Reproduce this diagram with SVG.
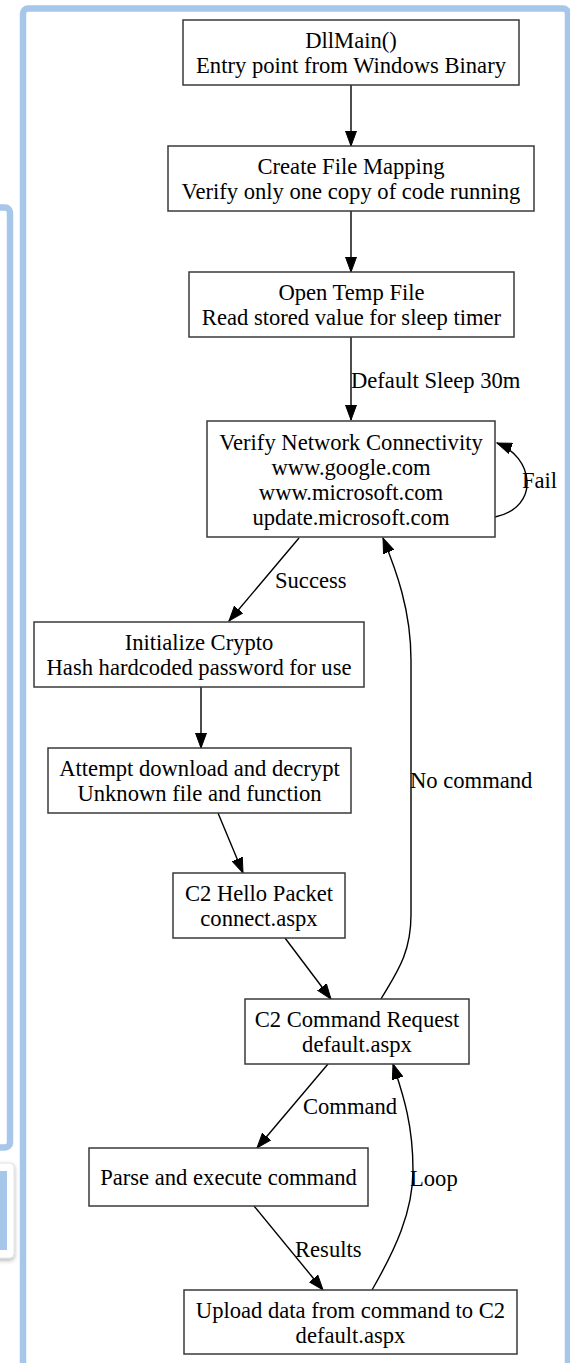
<svg xmlns="http://www.w3.org/2000/svg" width="570" height="1363" viewBox="0 0 570 1363">
  <style>
    .frame { fill: none; stroke: #a6c7ea; stroke-width: 6.5; }
    .node rect { fill: #ffffff; stroke: #3a3a3a; stroke-width: 1.5; }
    .node text, .lbl { font-family: "Liberation Serif", "Times New Roman", serif; font-size: 22.6px; fill: #000000; }
    .node text { text-anchor: middle; }
    .edge { fill: none; stroke: #000000; stroke-width: 1.4; }
  </style>
  <defs>
    <marker id="arrow" markerUnits="userSpaceOnUse" markerWidth="16" markerHeight="12" viewBox="0 0 16 12" refX="15" refY="6" orient="auto">
      <path d="M0,0.5 L15,6 L0,11.5 Z" fill="#000000" stroke="#000000" stroke-width="1"/>
    </marker>
    <filter id="shadow" x="-50%" y="-20%" width="200%" height="140%">
      <feDropShadow dx="0" dy="2" stdDeviation="2" flood-color="#000000" flood-opacity="0.3"/>
    </filter>
  </defs>

  <rect width="570" height="1363" fill="#ffffff"/>

  <!-- page panels -->
  <rect class="frame" x="-20" y="207.5" width="30" height="940" rx="5"/>
  <rect x="-12" y="1163" width="26" height="95" rx="4" fill="#ffffff" stroke="#e2e2e2" stroke-width="1" filter="url(#shadow)"/>
  <rect x="-5" y="1171" width="12" height="79" fill="#a6c7ea"/>
  <rect class="frame" x="23" y="8.5" width="545" height="1420" rx="5"/>

  <!-- connectors -->
  <g id="edges">
    <path class="edge" d="M351,85 V146" marker-end="url(#arrow)"/>
    <path class="edge" d="M351,211 V272" marker-end="url(#arrow)"/>
    <path class="edge" d="M351,337 V420" marker-end="url(#arrow)"/>
    <text class="lbl" x="351" y="388">Default Sleep 30m</text>
    <path class="edge" d="M495,517 C518,512 528,497 527,481 C526,465 515,450 497,443" marker-end="url(#arrow)"/>
    <text class="lbl" x="522" y="488">Fail</text>
    <path class="edge" d="M299,538 L229,621" marker-end="url(#arrow)"/>
    <text class="lbl" x="275" y="588">Success</text>
    <path class="edge" d="M201,687 V748" marker-end="url(#arrow)"/>
    <path class="edge" d="M218,813 L243,873" marker-end="url(#arrow)"/>
    <path class="edge" d="M285,938 L331,999" marker-end="url(#arrow)"/>
    <path class="edge" d="M381,999 C395,975 411,955 411,915 V660 C411,610 396,570 383,538" marker-end="url(#arrow)"/>
    <text class="lbl" x="410" y="788">No command</text>
    <path class="edge" d="M328,1064 L257,1148" marker-end="url(#arrow)"/>
    <text class="lbl" x="303" y="1114">Command</text>
    <path class="edge" d="M254,1206 L323,1290" marker-end="url(#arrow)"/>
    <text class="lbl" x="295" y="1257">Results</text>
    <path class="edge" d="M372,1290 C395,1250 413,1212 413,1170 C413,1122 402,1092 393,1064" marker-end="url(#arrow)"/>
    <text class="lbl" x="410" y="1186">Loop</text>
  </g>

  <!-- nodes -->
  <g id="dllmain" class="node">
    <rect x="183" y="20" width="336" height="65"/>
    <text x="351" y="48">DllMain()</text>
    <text x="351" y="73">Entry point from Windows Binary</text>
  </g>
  <g id="file-mapping" class="node">
    <rect x="168" y="146" width="366" height="65"/>
    <text x="351" y="174">Create File Mapping</text>
    <text x="351" y="199">Verify only one copy of code running</text>
  </g>
  <g id="temp-file" class="node">
    <rect x="189" y="272" width="325" height="65"/>
    <text x="351.5" y="300">Open Temp File</text>
    <text x="351.5" y="325">Read stored value for sleep timer</text>
  </g>
  <g id="network" class="node">
    <rect x="207" y="421" width="288" height="116"/>
    <text x="351" y="449.5">Verify Network Connectivity</text>
    <text x="351" y="474.5">www.google.com</text>
    <text x="351" y="499.5">www.microsoft.com</text>
    <text x="351" y="524.5">update.microsoft.com</text>
  </g>
  <g id="crypto" class="node">
    <rect x="34" y="622" width="330" height="65"/>
    <text x="199" y="650">Initialize Crypto</text>
    <text x="199" y="675">Hash hardcoded password for use</text>
  </g>
  <g id="download" class="node">
    <rect x="48" y="748" width="303" height="65"/>
    <text x="199.5" y="776">Attempt download and decrypt</text>
    <text x="199.5" y="801">Unknown file and function</text>
  </g>
  <g id="hello" class="node">
    <rect x="173" y="873" width="172" height="65"/>
    <text x="259" y="901">C2 Hello Packet</text>
    <text x="259" y="926">connect.aspx</text>
  </g>
  <g id="command-request" class="node">
    <rect x="245" y="999" width="224" height="65"/>
    <text x="357" y="1027">C2 Command Request</text>
    <text x="357" y="1052">default.aspx</text>
  </g>
  <g id="execute" class="node">
    <rect x="89" y="1148" width="279" height="58"/>
    <text x="228.5" y="1185">Parse and execute command</text>
  </g>
  <g id="upload" class="node">
    <rect x="184" y="1290" width="333" height="64"/>
    <text x="350.5" y="1317.5">Upload data from command to C2</text>
    <text x="350.5" y="1342.5">default.aspx</text>
  </g>
</svg>
